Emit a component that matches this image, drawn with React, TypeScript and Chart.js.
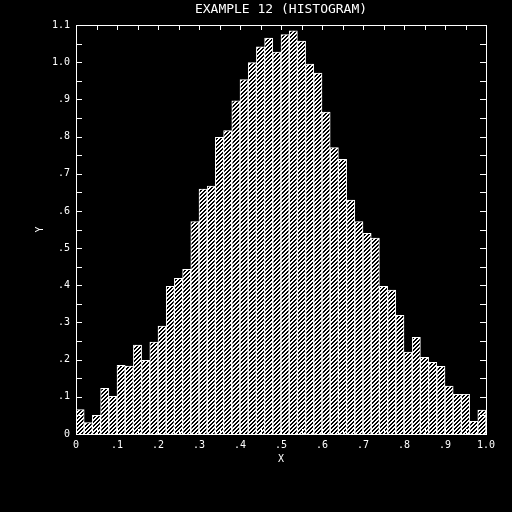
import React, { useEffect, useRef } from "react";
import { Chart, registerables } from "chart.js";

Chart.register(...registerables);

const TITLE = "EXAMPLE 12 (HISTOGRAM)";
const X_TITLE = "X";
const Y_TITLE = "Y";

const binCenters = [
  0.01, 0.03, 0.05, 0.07, 0.09, 0.11, 0.13, 0.15, 0.17, 0.19,
  0.21, 0.23, 0.25, 0.27, 0.29, 0.31, 0.33, 0.35, 0.37, 0.39,
  0.41, 0.43, 0.45, 0.47, 0.49, 0.51, 0.53, 0.55, 0.57, 0.59,
  0.61, 0.63, 0.65, 0.67, 0.69, 0.71, 0.73, 0.75, 0.77, 0.79,
  0.81, 0.83, 0.85, 0.87, 0.89, 0.91, 0.93, 0.95, 0.97, 0.99,
];

const counts = [
  0.066, 0.031, 0.05, 0.123, 0.101, 0.185, 0.183, 0.239, 0.198, 0.247,
  0.29, 0.397, 0.419, 0.443, 0.571, 0.659, 0.667, 0.798, 0.816, 0.896,
  0.953, 0.999, 1.041, 1.065, 1.027, 1.074, 1.084, 1.057, 0.995, 0.971,
  0.866, 0.77, 0.739, 0.629, 0.571, 0.54, 0.527, 0.397, 0.387, 0.319,
  0.22, 0.26, 0.206, 0.193, 0.182, 0.129, 0.107, 0.107, 0.034, 0.064,
];

const xTickLabels: Record<string, string> = {
  "0": "0", "0.1": ".1", "0.2": ".2", "0.3": ".3", "0.4": ".4", "0.5": ".5",
  "0.6": ".6", "0.7": ".7", "0.8": ".8", "0.9": ".9", "1": "1.0",
};
const yTickLabels: Record<string, string> = {
  "0": "0", "0.1": ".1", "0.2": ".2", "0.3": ".3", "0.4": ".4", "0.5": ".5",
  "0.6": ".6", "0.7": ".7", "0.8": ".8", "0.9": ".9", "1": "1.0", "1.1": "1.1",
};

const FONT = "'DejaVu Sans Mono', monospace";

function makePattern(): CanvasPattern | string {
  const c = document.createElement("canvas");
  c.width = 4;
  c.height = 4;
  const g = c.getContext("2d");
  if (!g) return "#888";
  g.fillStyle = "#000";
  g.fillRect(0, 0, 4, 4);
  g.fillStyle = "#fff";
  for (let y = 0; y < 4; y++) {
    for (let x = 0; x < 4; x++) {
      if ((((x + y) % 4) + 4) % 4 < 2) g.fillRect(x, y, 1, 1);
    }
  }
  const p = g.createPattern(c, "repeat");
  return p || "#888";
}

const keyOf = (v: number) => String(Math.round(v * 100) / 100);

const framePlugin = {
  id: "frame",
  afterDatasetsDraw(chart: any) {
    const { ctx, chartArea } = chart;
    const { left, right, top, bottom } = chartArea;
    const xs = chart.scales.x;
    const ys = chart.scales.y;
    ctx.save();
    ctx.strokeStyle = "#fff";
    ctx.lineWidth = 1;
    ctx.strokeRect(Math.round(left) + 0.5, Math.round(top) + 0.5, Math.round(right - left), Math.round(bottom - top));
    ctx.beginPath();
    for (const t of xs.ticks) {
      const px = Math.round(xs.getPixelForValue(t.value)) + 0.5;
      ctx.moveTo(px, top);
      ctx.lineTo(px, top + 5);
      ctx.moveTo(px, bottom);
      ctx.lineTo(px, bottom - 5);
    }
    for (const t of ys.ticks) {
      const py = Math.round(ys.getPixelForValue(t.value)) + 0.5;
      ctx.moveTo(left, py);
      ctx.lineTo(left + 6, py);
      ctx.moveTo(right, py);
      ctx.lineTo(right - 6, py);
    }
    ctx.stroke();
    ctx.fillStyle = "#fff";
    ctx.textAlign = "center";
    ctx.textBaseline = "middle";
    ctx.font = `13px ${FONT}`;
    ctx.fillText(TITLE, (left + right) / 2, top - 15);
    ctx.font = `10px ${FONT}`;
    ctx.fillText(X_TITLE, (left + right) / 2, bottom + 25);
    ctx.save();
    ctx.translate(left - 36, (top + bottom) / 2);
    ctx.rotate(-Math.PI / 2);
    ctx.fillText(Y_TITLE, 0, 0);
    ctx.restore();
    ctx.restore();
  },
};

export default function App() {
  const ref = useRef<HTMLCanvasElement | null>(null);
  useEffect(() => {
    if (!ref.current) return;
    const pattern = makePattern();
    const chart = new Chart(ref.current, {
      type: "bar",
      data: {
        datasets: [
          {
            data: binCenters.map((x, i) => ({ x, y: counts[i] })),
            backgroundColor: pattern as any,
            borderColor: "#fff",
            borderWidth: 1,
            barPercentage: 1,
            categoryPercentage: 1,
          },
        ],
      },
      options: {
        animation: false,
        responsive: false,
        devicePixelRatio: 1,
        layout: { padding: { left: 0, top: 25, right: 26, bottom: 0 } },
        plugins: { legend: { display: false }, tooltip: { enabled: false }, title: { display: false } },
        scales: {
          x: {
            type: "linear",
            min: 0,
            max: 1,
            offset: false,
            grid: { display: false, drawTicks: false },
            border: { display: false },
            ticks: {
              stepSize: 0.05,
              autoSkip: false,
              maxRotation: 0,
              padding: 5,
              color: "#fff",
              font: { family: FONT, size: 10 },
              callback: (v: any) => xTickLabels[keyOf(Number(v))] ?? "",
            },
            afterFit: (s: any) => {
              s.height = 78;
            },
          },
          y: {
            type: "linear",
            min: 0,
            max: 1.1,
            grid: { display: false, drawTicks: false },
            border: { display: false },
            ticks: {
              stepSize: 0.05,
              autoSkip: false,
              padding: 6,
              color: "#fff",
              font: { family: FONT, size: 10 },
              callback: (v: any) => yTickLabels[keyOf(Number(v))] ?? "",
            },
            afterFit: (s: any) => {
              s.width = 76;
            },
          },
        },
      },
      plugins: [framePlugin],
    });
    return () => chart.destroy();
  }, []);
  return (
    <div style={{ position: "absolute", left: 0, top: 0, width: 512, height: 512, background: "#000" }}>
      <canvas ref={ref} width={512} height={512} style={{ display: "block" }} />
    </div>
  );
}
